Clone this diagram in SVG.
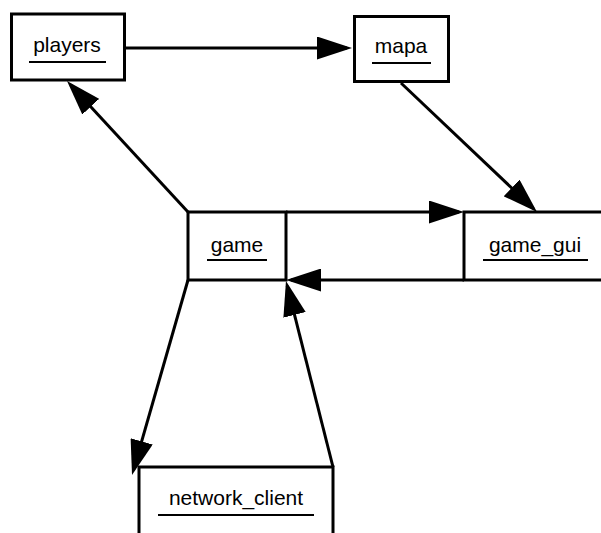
<svg xmlns="http://www.w3.org/2000/svg" width="601" height="533" viewBox="0 0 601 533">
  <style>
    .box { fill: #ffffff; stroke: #000000; stroke-width: 3; }
    .label { font-family: "Liberation Sans", Arial, sans-serif; font-size: 21px; fill: #000000; text-anchor: middle; }
    .uline { stroke: #000000; stroke-width: 2; }
    .edge { stroke: #000000; stroke-width: 3; fill: none; marker-end: url(#arrow); }
    .plain { stroke: #000000; stroke-width: 3; fill: none; }
  </style>
  <defs>
    <marker id="arrow" markerUnits="userSpaceOnUse" viewBox="0 0 35 23" markerWidth="35" markerHeight="23" refX="30" refY="11.5" orient="auto">
      <path d="M0,0 L35,11.5 L0,23 Z" fill="#000000"/>
    </marker>
  </defs>
  <rect width="601" height="533" fill="#ffffff"/>

  <g id="players">
    <rect class="box" x="11.5" y="14" width="113" height="66"/>
    <text class="label" x="67" y="52">players</text>
    <line class="uline" x1="29" y1="62" x2="106" y2="62"/>
  </g>

  <g id="mapa">
    <rect class="box" x="354.5" y="16.5" width="94" height="65"/>
    <text class="label" x="401" y="53">mapa</text>
    <line class="uline" x1="372" y1="63" x2="431" y2="63"/>
  </g>

  <g id="game">
    <rect class="box" x="188" y="212" width="98" height="68"/>
    <text class="label" x="237" y="252">game</text>
    <line class="uline" x1="207" y1="260" x2="267" y2="260"/>
  </g>

  <g id="game_gui">
    <rect class="box" x="464" y="212" width="150" height="68"/>
    <text class="label" x="535" y="252">game_gui</text>
    <line class="uline" x1="483" y1="260" x2="588" y2="260"/>
  </g>

  <g id="network_client">
    <rect class="box" x="139" y="467" width="194" height="90"/>
    <text class="label" x="236" y="505">network_client</text>
    <line class="uline" x1="158" y1="515" x2="314" y2="515"/>
  </g>

  <g id="connectors">
    <!-- players -> mapa -->
    <line class="edge" x1="126" y1="48" x2="347" y2="48"/>
    <!-- mapa -> game_gui -->
    <line class="edge" x1="401" y1="83" x2="533.4" y2="208.6"/>
    <!-- game -> players -->
    <line class="edge" x1="188" y1="212" x2="70.4" y2="84.7"/>
    <!-- game -> game_gui -->
    <line class="edge" x1="286" y1="212" x2="459" y2="212"/>
    <!-- game_gui -> game -->
    <line class="edge" x1="464" y1="280" x2="291" y2="280"/>
    <!-- network_client -> game -->
    <line class="edge" x1="333" y1="467" x2="287.2" y2="285.8"/>
    <!-- game -> network_client -->
    <line class="edge" x1="188" y1="280" x2="133.4" y2="470.2"/>
  </g>
</svg>
